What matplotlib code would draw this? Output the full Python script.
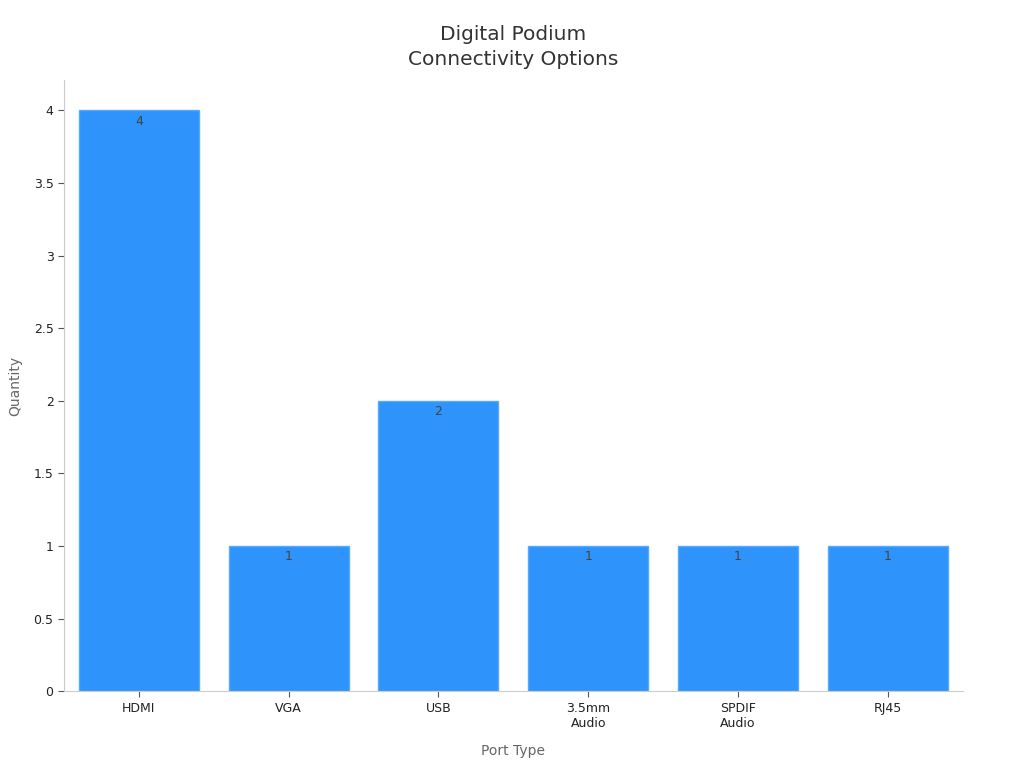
import matplotlib.pyplot as plt

# data
ports = ['HDMI', 'VGA', 'USB', '3.5mm\nAudio', 'SPDIF\nAudio', 'RJ45']
quantity = [4, 1, 2, 1, 1, 1]

plt.rcParams['font.family'] = 'DejaVu Sans'

fig = plt.figure(figsize=(10.24, 7.68), dpi=100)
ax = fig.add_axes([0.0625, 0.100, 0.8775, 0.796])

x = range(len(ports))
bars = ax.bar(x, quantity, width=0.8, color='#2e93fa', edgecolor='#5aaafb', linewidth=1)

# value labels just inside the top of each bar
for b, v in zip(bars, quantity):
    ax.text(b.get_x() + b.get_width() / 2, v - 0.03, str(v),
            ha='center', va='top', fontsize=9, color='#444444')

ax.set_xlim(-0.5, 5.5)
ax.set_ylim(0, 4.21)
ax.set_xticks(list(x))
ax.set_xticklabels(ports, fontsize=9)
ax.set_yticks([0, 0.5, 1, 1.5, 2, 2.5, 3, 3.5, 4])
ax.set_yticklabels(['0', '0.5', '1', '1.5', '2', '2.5', '3', '3.5', '4'], fontsize=9)

for s in ['top', 'right']:
    ax.spines[s].set_visible(False)
for s in ['left', 'bottom']:
    ax.spines[s].set_color('#cccccc')
ax.tick_params(colors='#555555', length=4)
for lbl in ax.get_xticklabels() + ax.get_yticklabels():
    lbl.set_color('#222222')

ax.set_xlabel('Port Type', fontsize=10, color='#666666', labelpad=10)
ax.set_ylabel('Quantity', fontsize=10, color='#666666', labelpad=8)
ax.set_title('Digital Podium\nConnectivity Options', fontsize=14.5, color='#333333',
             pad=11, linespacing=1.35)

fig.savefig('out.png', dpi=100)
